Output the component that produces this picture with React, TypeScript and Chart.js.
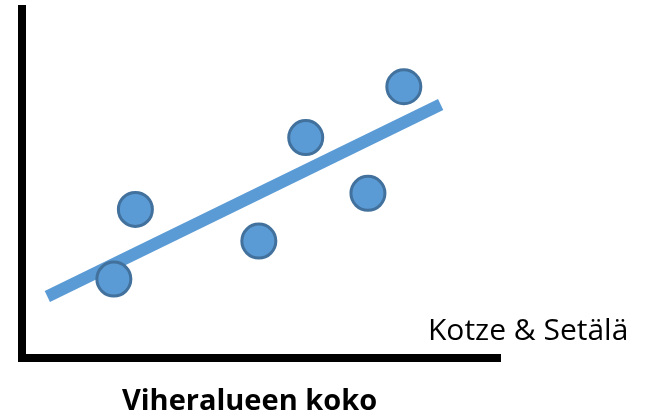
import React, { useEffect, useRef } from "react";
import { Chart, registerables } from "chart.js";

Chart.register(...registerables);

const pointX = [1.93, 2.38, 4.96, 5.94, 7.24, 7.99];
const pointY = [2.25, 4.25, 3.34, 6.31, 4.71, 7.77];
const trendX = [0.54, 8.76];
const trendY = [1.75, 7.26];
const axisTitle = "Viheralueen koko";
const sourceLabel = "Kotze & Setälä";

const textPlugin = {
  id: "texts",
  afterDraw(chart: any) {
    const ctx = chart.ctx;
    ctx.save();
    ctx.fillStyle = "#000000";
    ctx.textBaseline = "alphabetic";
    ctx.font = "30px 'Open Sans'";
    ctx.textAlign = "left";
    ctx.fillText(sourceLabel, 428, 339.5);
    ctx.font = "bold 29px 'Open Sans'";
    ctx.textAlign = "center";
    ctx.fillText(axisTitle, 249.5, 409.5);
    ctx.restore();
  },
};

export default function App() {
  const ref = useRef<HTMLCanvasElement | null>(null);
  useEffect(() => {
    if (!ref.current) return;
    const chart = new Chart(ref.current, {
      type: "scatter",
      data: {
        datasets: [
          {
            type: "line",
            data: trendX.map((x, i) => ({ x, y: trendY[i] })),
            borderColor: "#5B9BD5",
            borderWidth: 12,
            borderCapStyle: "butt",
            pointRadius: 0,
            fill: false,
            order: 2,
          } as any,
          {
            type: "scatter",
            data: pointX.map((x, i) => ({ x, y: pointY[i] })),
            backgroundColor: "#5B9BD5",
            borderColor: "#41719C",
            borderWidth: 3,
            pointRadius: 17,
            order: 1,
          },
        ],
      },
      options: {
        animation: false,
        responsive: false,
        maintainAspectRatio: false,
        events: [],
        layout: { autoPadding: false, padding: { left: 21.5, top: 9, right: 154, bottom: 59.5 } },
        plugins: { legend: { display: false }, tooltip: { enabled: false }, title: { display: false } },
        scales: {
          x: {
            type: "linear",
            min: 0,
            max: 10,
            ticks: { display: false },
            grid: { display: false, drawTicks: false },
            border: { display: true, color: "#000000", width: 8 },
          },
          y: {
            type: "linear",
            min: 0,
            max: 10,
            ticks: { display: false },
            grid: { display: false, drawTicks: false },
            border: { display: true, color: "#000000", width: 8 },
          },
        },
      },
      plugins: [textPlugin],
    });
    return () => chart.destroy();
  }, []);
  return (
    <div style={{ position: "fixed", left: 0, top: 0, width: 654, height: 417, background: "#ffffff" }}>
      <canvas ref={ref} width={654} height={417} style={{ width: 654, height: 417, display: "block" }} />
    </div>
  );
}
